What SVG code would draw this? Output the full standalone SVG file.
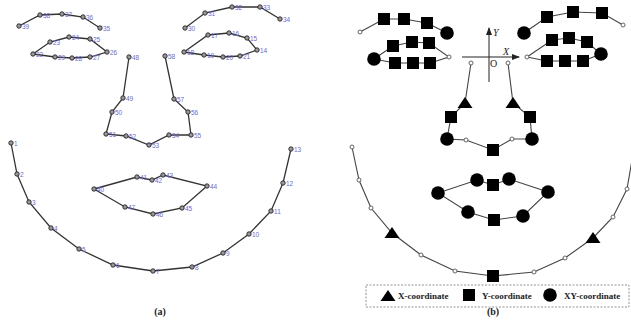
<svg xmlns="http://www.w3.org/2000/svg" xmlns:xlink="http://www.w3.org/1999/xlink" width="631" height="326" viewBox="0 0 631 326">
<style>
.la{fill:none;stroke:#333;stroke-width:1.3}
.lb{fill:none;stroke:#444;stroke-width:1.1}
.lbl{font-family:"Liberation Sans",Arial,sans-serif;font-size:6.5px;fill:#6a6ad0}
.cap{font-family:"Liberation Serif","Times New Roman",serif;font-size:10px;font-weight:bold;fill:#222}
.leg{font-family:"Liberation Serif","Times New Roman",serif;font-size:9px;font-weight:bold;fill:#222}
.ax{font-family:"Liberation Serif","Times New Roman",serif;font-size:10px;fill:#222}
</style>
<defs>
<circle id="ln" r="2.2" fill="#999" stroke="#222" stroke-width="0.9"/>
<circle id="sc" r="2" fill="#fff" stroke="#555" stroke-width="0.9"/>
<rect id="sq" x="-6" y="-6" width="12" height="12" fill="#000"/>
<circle id="bc" r="6.8" fill="#000"/>
<polygon id="tri" points="0,-6 7.5,5 -7.5,5" fill="#000"/>
<marker id="arr" markerWidth="8" markerHeight="6" refX="7" refY="3" orient="auto" markerUnits="userSpaceOnUse">
<path d="M0,0 L8,3 L0,6 Z" fill="#222"/>
</marker>
</defs>
<rect width="631" height="326" fill="#fff"/>

<g id="connectors">
<polyline class="la" points="11,143 17,174 29,202 51,228 79,249 113,265 153,271 192,267 223,253 249,234 271,211 283,183 291,149"/>
<polyline class="la" points="19,26 40,15 62,14 83,17 100,28"/>
<polygon class="la" points="33,54 50,42 69,37 90,39 107,52 90,57 72,58 55,57"/>
<polyline class="la" points="185,28 205,13 232,7 260,7 280,19"/>
<polygon class="la" points="184,52 208,35 229,33 247,38 257,50 240,56 223,57 204,55"/>
<polyline class="la" points="129,57 123,98 112,112 106,134 126,136 149,145 169,135 191,135 188,112 174,99 165,56"/>
<polygon class="la" points="94,189 137,177 152,180 163,175 207,186 182,208 153,214 125,207"/>
<polyline class="lb" points="352,147 359,180 371,208 392,233 421,255 455,271 493,276 534,272 565,258 593,238 613,217 627,189 633,154"/>
<polyline class="lb" points="360,32 384,19 404,19 427,23 447,33"/>
<polygon class="lb" points="374,59 393,46 412,42 429,43 449,57 430,63 413,63 395,63"/>
<polyline class="lb" points="524,33 547,17 573,12 602,13 623,25"/>
<polygon class="lb" points="527,57 552,40 569,38 587,42 601,54 583,61 565,61 547,61"/>
<polyline class="lb" points="471,63 465,103 451,117 447,139 466,140 493,150 512,139 532,139 530,117 513,103 508,63"/>
<polygon class="lb" points="438,193 477,180 493,185 509,179 548,192 523,216 494,220 468,212"/>
<line x1="462" y1="57" x2="519" y2="57" stroke="#222" stroke-width="1" marker-end="url(#arr)"/>
<line x1="489" y1="82" x2="489" y2="28" stroke="#222" stroke-width="1" marker-end="url(#arr)"/>
</g>

<g id="a1"><use href="#ln" x="11" y="143"/><text class="lbl" x="14" y="145.5">1</text></g>
<g id="a2"><use href="#ln" x="17" y="174"/><text class="lbl" x="20" y="176.5">2</text></g>
<g id="a3"><use href="#ln" x="29" y="202"/><text class="lbl" x="32" y="204.5">3</text></g>
<g id="a4"><use href="#ln" x="51" y="228"/><text class="lbl" x="54" y="230.5">4</text></g>
<g id="a5"><use href="#ln" x="79" y="249"/><text class="lbl" x="82" y="251.5">5</text></g>
<g id="a6"><use href="#ln" x="113" y="265"/><text class="lbl" x="116" y="267.5">6</text></g>
<g id="a7"><use href="#ln" x="153" y="271"/><text class="lbl" x="156" y="273.5">7</text></g>
<g id="a8"><use href="#ln" x="192" y="267"/><text class="lbl" x="195" y="269.5">8</text></g>
<g id="a9"><use href="#ln" x="223" y="253"/><text class="lbl" x="226" y="255.5">9</text></g>
<g id="a10"><use href="#ln" x="249" y="234"/><text class="lbl" x="252" y="236.5">10</text></g>
<g id="a11"><use href="#ln" x="271" y="211"/><text class="lbl" x="274" y="213.5">11</text></g>
<g id="a12"><use href="#ln" x="283" y="183"/><text class="lbl" x="286" y="185.5">12</text></g>
<g id="a13"><use href="#ln" x="291" y="149"/><text class="lbl" x="294" y="151.5">13</text></g>
<g id="a14"><use href="#ln" x="257" y="50"/><text class="lbl" x="260" y="52.5">14</text></g>
<g id="a15"><use href="#ln" x="247" y="38"/><text class="lbl" x="250" y="40.5">15</text></g>
<g id="a16"><use href="#ln" x="229" y="33"/><text class="lbl" x="232" y="35.5">16</text></g>
<g id="a17"><use href="#ln" x="208" y="35"/><text class="lbl" x="211" y="37.5">17</text></g>
<g id="a18"><use href="#ln" x="184" y="52"/><text class="lbl" x="187" y="54.5">18</text></g>
<g id="a19"><use href="#ln" x="204" y="55"/><text class="lbl" x="207" y="57.5">19</text></g>
<g id="a20"><use href="#ln" x="223" y="57"/><text class="lbl" x="226" y="59.5">20</text></g>
<g id="a21"><use href="#ln" x="240" y="56"/><text class="lbl" x="243" y="58.5">21</text></g>
<g id="a22"><use href="#ln" x="33" y="54"/><text class="lbl" x="36" y="56.5">22</text></g>
<g id="a23"><use href="#ln" x="50" y="42"/><text class="lbl" x="53" y="44.5">23</text></g>
<g id="a24"><use href="#ln" x="69" y="37"/><text class="lbl" x="72" y="39.5">24</text></g>
<g id="a25"><use href="#ln" x="90" y="39"/><text class="lbl" x="93" y="41.5">25</text></g>
<g id="a26"><use href="#ln" x="107" y="52"/><text class="lbl" x="110" y="54.5">26</text></g>
<g id="a27"><use href="#ln" x="90" y="57"/><text class="lbl" x="93" y="59.5">27</text></g>
<g id="a28"><use href="#ln" x="72" y="58"/><text class="lbl" x="75" y="60.5">28</text></g>
<g id="a29"><use href="#ln" x="55" y="57"/><text class="lbl" x="58" y="59.5">29</text></g>
<g id="a30"><use href="#ln" x="185" y="28"/><text class="lbl" x="188" y="30.5">30</text></g>
<g id="a31"><use href="#ln" x="205" y="13"/><text class="lbl" x="208" y="15.5">31</text></g>
<g id="a32"><use href="#ln" x="232" y="7"/><text class="lbl" x="235" y="9.5">32</text></g>
<g id="a33"><use href="#ln" x="260" y="7"/><text class="lbl" x="263" y="9.5">33</text></g>
<g id="a34"><use href="#ln" x="280" y="19"/><text class="lbl" x="283" y="21.5">34</text></g>
<g id="a35"><use href="#ln" x="100" y="28"/><text class="lbl" x="103" y="30.5">35</text></g>
<g id="a36"><use href="#ln" x="83" y="17"/><text class="lbl" x="86" y="19.5">36</text></g>
<g id="a37"><use href="#ln" x="62" y="14"/><text class="lbl" x="65" y="16.5">37</text></g>
<g id="a38"><use href="#ln" x="40" y="15"/><text class="lbl" x="43" y="17.5">38</text></g>
<g id="a39"><use href="#ln" x="19" y="26"/><text class="lbl" x="22" y="28.5">39</text></g>
<g id="a40"><use href="#ln" x="94" y="189"/><text class="lbl" x="97" y="191.5">40</text></g>
<g id="a41"><use href="#ln" x="137" y="177"/><text class="lbl" x="140" y="179.5">41</text></g>
<g id="a42"><use href="#ln" x="152" y="180"/><text class="lbl" x="155" y="182.5">42</text></g>
<g id="a43"><use href="#ln" x="163" y="175"/><text class="lbl" x="166" y="177.5">43</text></g>
<g id="a44"><use href="#ln" x="207" y="186"/><text class="lbl" x="210" y="188.5">44</text></g>
<g id="a45"><use href="#ln" x="182" y="208"/><text class="lbl" x="185" y="210.5">45</text></g>
<g id="a46"><use href="#ln" x="153" y="214"/><text class="lbl" x="156" y="216.5">46</text></g>
<g id="a47"><use href="#ln" x="125" y="207"/><text class="lbl" x="128" y="209.5">47</text></g>
<g id="a48"><use href="#ln" x="129" y="57"/><text class="lbl" x="132" y="59.5">48</text></g>
<g id="a49"><use href="#ln" x="123" y="98"/><text class="lbl" x="126" y="100.5">49</text></g>
<g id="a50"><use href="#ln" x="112" y="112"/><text class="lbl" x="115" y="114.5">50</text></g>
<g id="a51"><use href="#ln" x="106" y="134"/><text class="lbl" x="109" y="136.5">51</text></g>
<g id="a52"><use href="#ln" x="126" y="136"/><text class="lbl" x="129" y="138.5">52</text></g>
<g id="a53"><use href="#ln" x="149" y="145"/><text class="lbl" x="152" y="147.5">53</text></g>
<g id="a54"><use href="#ln" x="169" y="135"/><text class="lbl" x="172" y="137.5">54</text></g>
<g id="a55"><use href="#ln" x="191" y="135"/><text class="lbl" x="194" y="137.5">55</text></g>
<g id="a56"><use href="#ln" x="188" y="112"/><text class="lbl" x="191" y="114.5">56</text></g>
<g id="a57"><use href="#ln" x="174" y="99"/><text class="lbl" x="177" y="101.5">57</text></g>
<g id="a58"><use href="#ln" x="165" y="56"/><text class="lbl" x="168" y="58.5">58</text></g>

<g id="b1"><use href="#sc" x="352" y="147"/></g>
<g id="b2"><use href="#sc" x="359" y="180"/></g>
<g id="b3"><use href="#sc" x="371" y="208"/></g>
<g id="b4"><use href="#tri" x="392" y="233"/></g>
<g id="b5"><use href="#sc" x="421" y="255"/></g>
<g id="b6"><use href="#sc" x="455" y="271"/></g>
<g id="b7"><use href="#sq" x="493" y="276"/></g>
<g id="b8"><use href="#sc" x="534" y="272"/></g>
<g id="b9"><use href="#sc" x="565" y="258"/></g>
<g id="b10"><use href="#tri" x="593" y="238"/></g>
<g id="b11"><use href="#sc" x="613" y="217"/></g>
<g id="b12"><use href="#sc" x="627" y="189"/></g>
<g id="b14"><use href="#bc" x="601" y="54"/></g>
<g id="b15"><use href="#sq" x="587" y="42"/></g>
<g id="b16"><use href="#sq" x="569" y="38"/></g>
<g id="b17"><use href="#sq" x="552" y="40"/></g>
<g id="b18"><use href="#sc" x="527" y="57"/></g>
<g id="b19"><use href="#sq" x="547" y="61"/></g>
<g id="b20"><use href="#sq" x="565" y="61"/></g>
<g id="b21"><use href="#sq" x="583" y="61"/></g>
<g id="b22"><use href="#bc" x="374" y="59"/></g>
<g id="b23"><use href="#sq" x="393" y="46"/></g>
<g id="b24"><use href="#sq" x="412" y="42"/></g>
<g id="b25"><use href="#sq" x="429" y="43"/></g>
<g id="b26"><use href="#sc" x="449" y="57"/></g>
<g id="b27"><use href="#sq" x="430" y="63"/></g>
<g id="b28"><use href="#sq" x="413" y="63"/></g>
<g id="b29"><use href="#sq" x="395" y="63"/></g>
<g id="b30"><use href="#bc" x="524" y="33"/></g>
<g id="b31"><use href="#sq" x="547" y="17"/></g>
<g id="b32"><use href="#sq" x="573" y="12"/></g>
<g id="b33"><use href="#sq" x="602" y="13"/></g>
<g id="b34"><use href="#sc" x="623" y="25"/></g>
<g id="b35"><use href="#bc" x="447" y="33"/></g>
<g id="b36"><use href="#sq" x="427" y="23"/></g>
<g id="b37"><use href="#sq" x="404" y="19"/></g>
<g id="b38"><use href="#sq" x="384" y="19"/></g>
<g id="b39"><use href="#sc" x="360" y="32"/></g>
<g id="b40"><use href="#bc" x="438" y="193"/></g>
<g id="b41"><use href="#bc" x="477" y="180"/></g>
<g id="b42"><use href="#sq" x="493" y="185"/></g>
<g id="b43"><use href="#bc" x="509" y="179"/></g>
<g id="b44"><use href="#bc" x="548" y="192"/></g>
<g id="b45"><use href="#bc" x="523" y="216"/></g>
<g id="b46"><use href="#sq" x="494" y="220"/></g>
<g id="b47"><use href="#bc" x="468" y="212"/></g>
<g id="b48"><use href="#sc" x="471" y="63"/></g>
<g id="b49"><use href="#tri" x="465" y="103"/></g>
<g id="b50"><use href="#sq" x="451" y="117"/></g>
<g id="b51"><use href="#bc" x="447" y="139"/></g>
<g id="b52"><use href="#sc" x="466" y="140"/></g>
<g id="b53"><use href="#sq" x="493" y="150"/></g>
<g id="b54"><use href="#sc" x="512" y="139"/></g>
<g id="b55"><use href="#bc" x="532" y="139"/></g>
<g id="b56"><use href="#sq" x="530" y="117"/></g>
<g id="b57"><use href="#tri" x="513" y="103"/></g>
<g id="b58"><use href="#sc" x="508" y="63"/></g>

<g id="axis-labels">
<text class="ax" x="493" y="36" font-style="italic">Y</text>
<text class="ax" x="503" y="55" font-style="italic">X</text>
<text class="ax" x="490" y="67">O</text>
</g>

<g id="legend">
<rect x="366" y="285" width="263" height="22" fill="none" stroke="#777" stroke-width="0.8" stroke-dasharray="2,1.5"/>
<use href="#tri" x="388" y="296"/>
<text class="leg" x="398" y="299">X-coordinate</text>
<use href="#sq" x="469" y="295"/>
<text class="leg" x="482" y="299">Y-coordinate</text>
<use href="#bc" x="550" y="295"/>
<text class="leg" x="564" y="299">XY-coordinate</text>
</g>

<g id="captions">
<text class="cap" x="160" y="315" text-anchor="middle">(a)</text>
<text class="cap" x="493" y="315" text-anchor="middle">(b)</text>
</g>
</svg>
